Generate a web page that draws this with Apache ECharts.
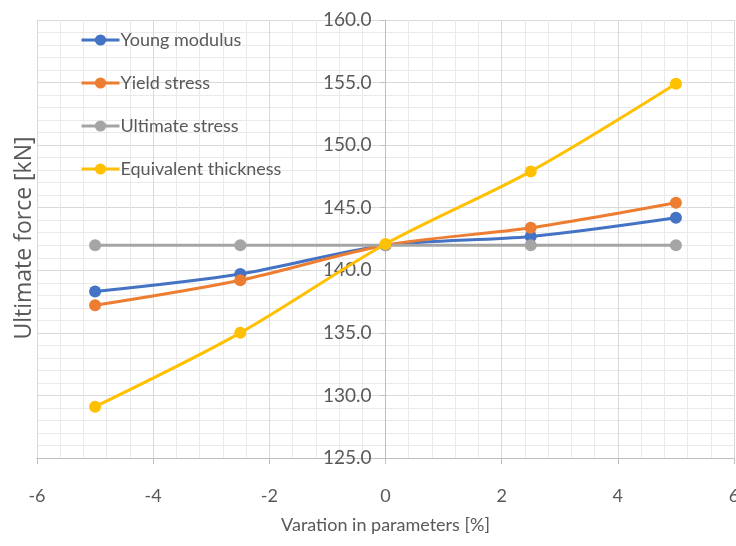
<!DOCTYPE html>
<html>
<head>
<meta charset="utf-8">
<script src="https://cdn.jsdelivr.net/npm/echarts@6/dist/echarts.min.js"></script>
<style>html,body{margin:0;padding:0;background:#fff}#c{width:736px;height:546px}</style>
</head>
<body>
<div id="c"></div>
<script>
const xValues = [-5, -2.5, 0, 2.5, 5];
const seriesNames = ['Young modulus', 'Yield stress', 'Ultimate stress', 'Equivalent thickness'];
const youngModulus = [138.3, 139.7, 142.0, 142.7, 144.2];
const yieldStress = [137.2, 139.2, 142.0, 143.4, 145.4];
const ultimateStress = [142.0, 142.0, 142.0, 142.0, 142.0];
const equivalentThickness = [129.1, 135.0, 142.1, 147.9, 154.9];
const colors = ['#4472C4', '#ED7D31', '#A5A5A5', '#FFC000'];
const xTitle = 'Varation in parameters [%]';
const yTitle = 'Ultimate force [kN]';

const allData = [youngModulus, yieldStress, ultimateStress, equivalentThickness];
const FONT = 'Lato';
const GRID_LEFT = 37, GRID_RIGHT = 2, W = 736;
const plotW = W - GRID_LEFT - GRID_RIGHT;
const chart = echarts.init(document.getElementById('c'), null, {renderer: 'canvas'});
chart.setOption({
  animation: false,
  color: colors,
  grid: {left: GRID_LEFT, right: GRID_RIGHT, top: 20, bottom: 88, containLabel: false, outerBoundsMode: 'none'},
  legend: {
    orient: 'vertical', left: 75, top: 26,
    itemWidth: 38, itemHeight: 14, itemGap: 25,
    lineStyle: {width: 3},
    textStyle: {fontFamily: FONT, fontSize: 18, color: '#595959', padding: [0,0,0,-4]},
    data: seriesNames
  },
  xAxis: {
    type: 'value', min: -6, max: 6, interval: 2,
    name: xTitle, nameLocation: 'middle', nameGap: 58,
    nameTextStyle: {fontFamily: FONT, fontSize: 18, color: '#595959'},
    axisLine: {onZero: false, lineStyle: {color: '#bfbfbf', width: 1}},
    axisTick: {show: true, length: 6, lineStyle: {color: '#bfbfbf'}},
    axisLabel: {fontFamily: FONT, fontSize: 18, color: '#595959', margin: 29},
    splitLine: {show: true, lineStyle: {color: '#d9d9d9', width: 1}},
    minorTick: {show: false, splitNumber: 5},
    minorSplitLine: {show: true, lineStyle: {color: '#eaeaea', width: 1}}
  },
  yAxis: {
    type: 'value', min: 125, max: 160, interval: 5,
    position: 'left', offset: -plotW / 2,
    axisLine: {show: true, onZero: false, lineStyle: {color: '#bfbfbf', width: 1}},
    axisTick: {show: true, length: 5, lineStyle: {color: '#bfbfbf'}},
    axisLabel: {fontFamily: FONT, fontSize: 19, color: '#595959', margin: 14,
      formatter: v => v.toFixed(1)},
    splitLine: {show: true, lineStyle: {color: '#d9d9d9', width: 1}},
    minorTick: {show: false, splitNumber: 5},
    minorSplitLine: {show: true, lineStyle: {color: '#eaeaea', width: 1}}
  },
  graphic: [{
    type: 'text', x: 13, y: 238, rotation: Math.PI / 2,
    style: {text: yTitle, fontFamily: 'Open Sans', fontSize: 23, fill: '#595959',
      align: 'center', verticalAlign: 'top'}
  }],
  series: seriesNames.map((n, i) => ({
    name: n, type: 'line', smooth: 0.3,
    data: xValues.map((x, j) => [x, allData[i][j]]),
    symbol: 'circle', symbolSize: 12,
    lineStyle: {width: 3, color: colors[i]},
    itemStyle: {color: colors[i]},
    z: 2 + i
  }))
});
</script>
</body>
</html>
